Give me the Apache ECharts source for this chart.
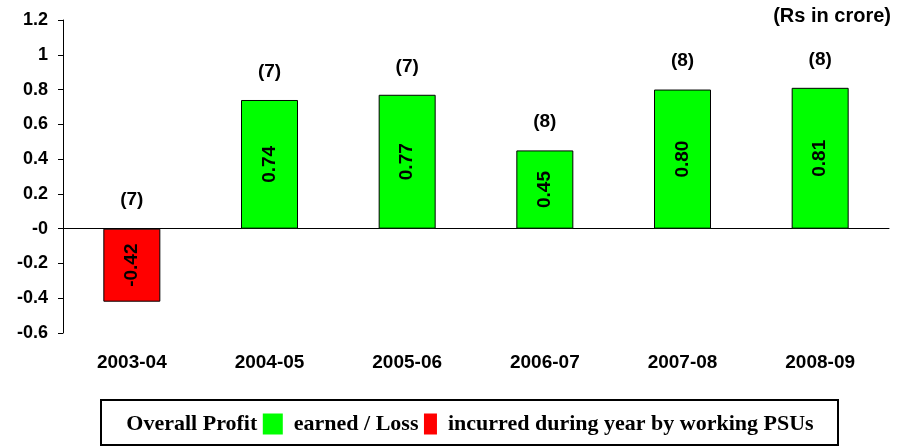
<!DOCTYPE html>
<html>
  <head>
    <meta charset="UTF-8">
    <script src="https://cdn.jsdelivr.net/npm/echarts@6/dist/echarts.min.js"></script>
    <title>Overall Profit / Loss</title>
  </head>
  <body style="margin:0;background:#fff;">
    <div id="main" style="width:899px;height:448px;"></div>
  </body>
  <script>
// data
var years = ['2003-04', '2004-05', '2005-06', '2006-07', '2007-08', '2008-09'];
var profit = [-0.42, 0.74, 0.77, 0.45, 0.80, 0.81];
var psuCount = [7, 7, 7, 8, 8, 8];
var yTicks = [-0.6, 1.2, 0.2]; // min, max, step

var font = 'Liberation Sans, Arial, sans-serif';
var chart = echarts.init(document.getElementById('main'));

option = {
    animation: false,
    grid: {left: 63, right: 10, top: 20, bottom: 115},
    xAxis: [
        {
            type: 'category',
            data: years,
            position: 'bottom',
            axisLine: {show: false, onZero: false},
            axisTick: {show: false},
            axisLabel: {
                color: '#000', fontFamily: font, fontWeight: 'bold',
                fontSize: 19, margin: 20
            }
        },
        {
            // zero line
            type: 'category',
            data: years,
            axisLine: {onZero: true, lineStyle: {color: '#000', width: 1}},
            axisTick: {show: false},
            axisLabel: {show: false}
        }
    ],
    yAxis: {
        type: 'value',
        min: yTicks[0],
        max: yTicks[1],
        interval: yTicks[2],
        axisLine: {show: true, lineStyle: {color: '#000'}},
        axisTick: {show: true, length: 5, lineStyle: {color: '#000'}},
        splitLine: {show: false},
        axisLabel: {
            color: '#000', fontFamily: font, fontWeight: 'bold', fontSize: 18, margin: 15,
            formatter: function (v) {
                var r = Math.round(v * 10) / 10;
                return r === 0 ? '-0' : String(r);
            }
        }
    },
    series: [
        {
            type: 'bar',
            barWidth: 57,
            data: profit.map(function (v) {
                return {
                    value: v,
                    itemStyle: {color: v < 0 ? '#ff0000' : '#00ff00', borderColor: '#000', borderWidth: 1}
                };
            }),
            label: {
                show: true,
                position: 'inside',
                rotate: 90,
                color: '#000',
                fontFamily: font,
                fontWeight: 'bold',
                fontSize: 19,
                formatter: function (p) { return p.value.toFixed(2); }
            }
        },
        {
            // PSU counts above each bar
            type: 'bar',
            barWidth: 57,
            barGap: '-100%',
            silent: true,
            itemStyle: {color: 'rgba(0,0,0,0)'},
            data: profit.map(function (v) { return Math.max(v, 0); }),
            label: {
                show: true,
                position: 'top',
                distance: 19,
                color: '#000',
                fontFamily: font,
                fontWeight: 'bold',
                fontSize: 19,
                formatter: function (p) { return '(' + psuCount[p.dataIndex] + ')'; }
            }
        }
    ],
    graphic: [
        {
            type: 'text',
            right: 8,
            top: 6,
            style: {
                text: '(Rs in crore)',
                fill: '#000',
                font: 'bold 20px ' + font
            }
        },
        {
            type: 'rect',
            shape: {x: 101, y: 400, width: 737, height: 45},
            style: {fill: '#fff', stroke: '#000', lineWidth: 2}
        },
        {
            type: 'text',
            x: 470,
            y: 424,
            style: {
                text: 'Overall Profit {g|}  earned / Loss {r|}  incurred during year by working PSUs',
                fill: '#000',
                font: 'bold 22px "Liberation Serif", "Times New Roman", serif',
                align: 'center',
                verticalAlign: 'middle',
                rich: {
                    g: {width: 20, height: 21, backgroundColor: '#00ff00'},
                    r: {width: 13, height: 21, backgroundColor: '#ff0000'}
                }
            }
        }
    ]
};

chart.setOption(option);
  </script>
</html>
